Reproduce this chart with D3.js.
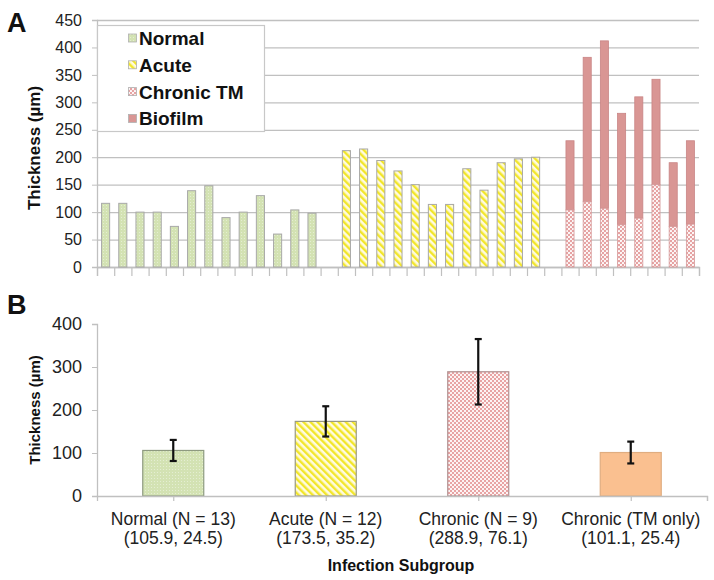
<!DOCTYPE html>
<html><head><meta charset="utf-8">
<script src="https://cdn.jsdelivr.net/npm/d3@7"></script>
<style>
body{margin:0;background:#fff;}
svg{display:block;font-family:"Liberation Sans",Arial,sans-serif;}
</style></head>
<body><svg id="c" width="714" height="580"></svg>
<script>
// ---------- DATA ----------
const normalValues = [116,116,100,100,74,139,148,90,100,130,60,104,98];
const acuteValues  = [212,215,194,175,150,114,114,179,140,190,197,200];
const chronicTM    = [104,119,107,77,89,150,74,78];
const chronicTotal = [230,382,412,280,310,342,190,230];
const topTicks     = [0,50,100,150,200,250,300,350,400,450];
const legendLabels = ["Normal","Acute","Chronic TM","Biofilm"];

const groupLabels  = ["Normal (N = 13)","Acute (N = 12)","Chronic (N = 9)","Chronic (TM only)"];
const groupStats   = ["(105.9, 24.5)","(173.5, 35.2)","(288.9, 76.1)","(101.1, 25.4)"];
const groupMeans   = [105.9,173.5,288.9,101.1];
const groupSD      = [24.5,35.2,76.1,25.4];
const bottomTicks  = [0,100,200,300,400];

// ---------- SETUP ----------
const svg = d3.select("#c");
const defs = svg.append("defs");
const gridCol = "#c0c0c0";

// patterns
const pN = defs.append("pattern").attr("id","pNormal").attr("patternUnits","userSpaceOnUse").attr("width",3).attr("height",3);
pN.append("rect").attr("width",3).attr("height",3).attr("fill","#d3e2b3");
pN.append("rect").attr("x",1).attr("y",1).attr("width",1).attr("height",1).attr("fill","#e4eed2");

const pA = defs.append("pattern").attr("id","pAcute").attr("patternUnits","userSpaceOnUse").attr("width",5).attr("height",5).attr("patternTransform","rotate(-45)");
pA.append("rect").attr("width",5).attr("height",5).attr("fill","#fffbe0");
pA.append("rect").attr("width",2.4).attr("height",5).attr("fill","#f2e62a");

const pC = defs.append("pattern").attr("id","pChronic").attr("patternUnits","userSpaceOnUse").attr("width",4).attr("height",4);
pC.append("rect").attr("width",4).attr("height",4).attr("fill","#fdf3f3");
pC.append("rect").attr("width",2).attr("height",2).attr("fill","#e8a4a4");
pC.append("rect").attr("x",2).attr("y",2).attr("width",2).attr("height",2).attr("fill","#e8a4a4");

const pT = defs.append("pattern").attr("id","pTM").attr("patternUnits","userSpaceOnUse").attr("width",4).attr("height",4);
pT.append("rect").attr("width",4).attr("height",4).attr("fill","#e6a2a2");
pT.append("circle").attr("cx",1).attr("cy",1).attr("r",1.1).attr("fill","#ffffff");
pT.append("circle").attr("cx",3).attr("cy",3).attr("r",1.1).attr("fill","#ffffff");

const fills = {normal:"url(#pNormal)", acute:"url(#pAcute)", tm:"url(#pTM)", biofilm:"#d99694", chronic:"url(#pChronic)", tmonly:"#fac090"};

// ---------- PANEL A ----------
const topRows = [];
normalValues.forEach(v=>topRows.push({g:"normal",v}));
topRows.push(null);
acuteValues.forEach(v=>topRows.push({g:"acute",v}));
topRows.push(null);
chronicTotal.forEach((v,i)=>topRows.push({g:"chronic",v,tm:chronicTM[i]}));
const nCat = topRows.length;

const xA = d3.scaleBand().domain(d3.range(nCat)).range([97,699]).paddingInner(0.53).paddingOuter(0.265);
const xAt = d3.scaleLinear().domain([0,nCat]).range([97,699]);
const yA = d3.scaleLinear().domain([0,450]).range([267,20]);

// gridlines
svg.append("g").attr("transform","translate(97,0)")
  .call(d3.axisLeft(yA).tickValues(topTicks).tickSize(-602).tickFormat(""))
  .call(g=>g.select(".domain").remove())
  .call(g=>g.selectAll("line").attr("stroke",gridCol).attr("stroke-width",1.3));
// y axis
const yAxA = svg.append("g").attr("transform","translate(97,0)")
  .call(d3.axisLeft(yA).tickValues(topTicks).tickSize(5).tickPadding(10));
yAxA.select(".domain").attr("stroke",gridCol).attr("stroke-width",1.3);
yAxA.selectAll("line").attr("stroke",gridCol);
yAxA.selectAll("text").attr("font-size",16).attr("fill","#222").attr("font-family","Liberation Sans, Arial");
// x axis
const xAxA = svg.append("g").attr("transform","translate(0,267)")
  .call(d3.axisBottom(xAt).tickValues(d3.range(nCat+1)).tickSize(9).tickFormat(""));
xAxA.select(".domain").attr("stroke",gridCol).attr("stroke-width",1.3);
xAxA.selectAll("line").attr("stroke",gridCol).attr("stroke-width",1.2);

// bars
const barsA = svg.append("g");
topRows.forEach((d,i)=>{
  if(!d) return;
  const x = xA(i), w = xA.bandwidth();
  if(d.g==="chronic"){
    barsA.append("rect").attr("x",x).attr("y",yA(d.v)).attr("width",w).attr("height",yA(d.tm)-yA(d.v))
      .attr("fill",fills.biofilm).attr("stroke","#c98585").attr("stroke-width",0.8);
    barsA.append("rect").attr("x",x).attr("y",yA(d.tm)).attr("width",w).attr("height",yA(0)-yA(d.tm))
      .attr("fill",fills.tm).attr("stroke","#d59a9a").attr("stroke-width",0.8);
  } else {
    barsA.append("rect").attr("x",x).attr("y",yA(d.v)).attr("width",w).attr("height",yA(0)-yA(d.v))
      .attr("fill",fills[d.g]).attr("stroke","#a8a8a8").attr("stroke-width",1);
  }
});

// legend
const lg = svg.append("g");
lg.append("rect").attr("x",97.5).attr("y",25.5).attr("width",167).attr("height",106).attr("fill","#fff").attr("stroke","#c8c8c8").attr("stroke-width",1.2);
const legFills = [fills.normal,fills.acute,fills.tm,fills.biofilm];
legendLabels.forEach((t,i)=>{
  const cy = 38.5 + i*26.8;
  lg.append("rect").attr("x",128.5).attr("y",cy-4.5).attr("width",8).attr("height",8)
    .attr("fill",legFills[i]).attr("stroke","#b0b0b0").attr("stroke-width",0.8);
  lg.append("text").attr("x",139).attr("y",cy+6.5).attr("font-size",19).attr("font-weight","bold").attr("fill","#111").text(t);
});

// titles A
svg.append("text").attr("x",7).attr("y",32).attr("font-size",27).attr("font-weight","bold").attr("fill","#111").text("A");
svg.append("text").attr("transform","translate(40,148) rotate(-90)").attr("text-anchor","middle")
  .attr("font-size",17).attr("font-weight","bold").attr("fill","#111").text("Thickness (µm)");

// ---------- PANEL B ----------
const xB = d3.scaleBand().domain(d3.range(groupMeans.length)).range([97,707]).paddingInner(0.6).paddingOuter(0.3);
const yB = d3.scaleLinear().domain([0,400]).range([496,324]);

const yAxB = svg.append("g").attr("transform","translate(97,0)")
  .call(d3.axisLeft(yB).tickValues(bottomTicks).tickSize(5).tickPadding(10));
yAxB.select(".domain").attr("stroke",gridCol).attr("stroke-width",1.3);
yAxB.selectAll("line").attr("stroke",gridCol);
yAxB.selectAll("text").attr("font-size",18).attr("fill","#222");

const bFills = [fills.normal,fills.acute,fills.chronic,fills.tmonly];
const bStroke = ["#8e9a80","#9a9a80","#b09090","#e0ad80"];
const barsB = svg.append("g");
groupMeans.forEach((m,i)=>{
  barsB.append("rect").attr("x",xB(i)).attr("y",yB(m)).attr("width",xB.bandwidth()).attr("height",yB(0)-yB(m))
    .attr("fill",bFills[i]).attr("stroke",bStroke[i]).attr("stroke-width",1.2);
});

const xAxB = svg.append("g").attr("transform","translate(0,496)")
  .call(d3.axisBottom(d3.scaleLinear().domain([0,4]).range([97,707]))
    .tickValues([0.5,1.5,2.5,3.5,4]).tickSize(5).tickFormat(""));
xAxB.select(".domain").attr("stroke",gridCol).attr("stroke-width",1.3);
xAxB.selectAll("line").attr("stroke",gridCol).attr("stroke-width",1.2);

// error bars
const eb = svg.append("g").attr("stroke","#111").attr("stroke-width",2.2);
groupMeans.forEach((m,i)=>{
  const cx = xB(i)+xB.bandwidth()/2;
  eb.append("line").attr("x1",cx).attr("x2",cx).attr("y1",yB(m+groupSD[i])).attr("y2",yB(m-groupSD[i]));
  eb.append("line").attr("x1",cx-3.5).attr("x2",cx+3.5).attr("y1",yB(m+groupSD[i])).attr("y2",yB(m+groupSD[i]));
  eb.append("line").attr("x1",cx-3.5).attr("x2",cx+3.5).attr("y1",yB(m-groupSD[i])).attr("y2",yB(m-groupSD[i]));
});

// category labels
groupLabels.forEach((t,i)=>{
  const cx = xB(i)+xB.bandwidth()/2;
  svg.append("text").attr("x",cx).attr("y",524.5).attr("text-anchor","middle").attr("font-size",17.5).attr("fill","#222").text(t);
  svg.append("text").attr("x",cx).attr("y",543.5).attr("text-anchor","middle").attr("font-size",17.5).attr("fill","#222").text(groupStats[i]);
});
svg.append("text").attr("x",401).attr("y",571).attr("text-anchor","middle").attr("font-size",16).attr("font-weight","bold").attr("fill","#111").text("Infection Subgroup");

svg.append("text").attr("x",7).attr("y",314).attr("font-size",27).attr("font-weight","bold").attr("fill","#111").text("B");
svg.append("text").attr("transform","translate(40,410) rotate(-90)").attr("text-anchor","middle")
  .attr("font-size",15).attr("font-weight","bold").attr("fill","#111").text("Thickness (µm)");
</script></body></html>
